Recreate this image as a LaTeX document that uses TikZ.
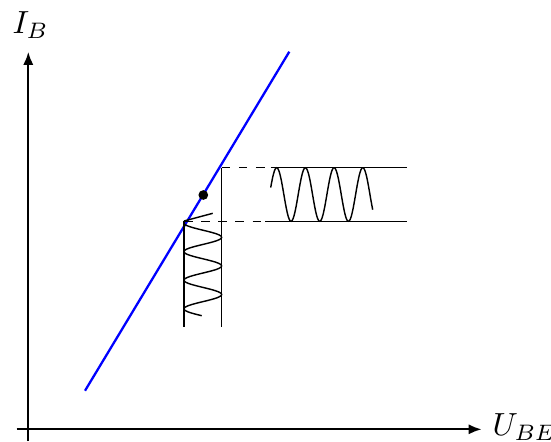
\documentclass[tikz,border=0pt]{standalone}
\usetikzlibrary{arrows.meta}
\begin{document}
\begin{tikzpicture}[x=0.35pt,y=-0.35pt,
  axis/.style={line width=0.8pt,-{Latex[length=4.6pt,width=3.6pt]}},
  thinline/.style={line width=0.5pt},
  guide/.style={line width=0.5pt,dash pattern=on 3pt off 3pt},
  curve/.style={blue,line width=0.8pt},
  lbl/.style={anchor=base west,inner sep=0pt,scale=1.12}]
\useasboundingbox (0,0) rectangle (551,441);
% axes
\coordinate (yb) at (28.3,441);
\coordinate (yt) at (28.3,51.7);
\coordinate (xl) at (16.7,429.3);
\coordinate (xr) at (481.7,429.3);
\draw[axis] (yb) -- (yt);
\draw[axis] (xl) -- (xr);
\node[lbl] (ib) at (12,33.3) {$I_B$};
\node[lbl] (ube) at (492,435.5) {$U_{BE}$};
% characteristic
\coordinate (c1) at (85,390.7);
\coordinate (c2) at (289.3,51.7);
\draw[curve] (c1) -- (c2);
\fill (203.3,195) circle (1.7pt);
% verticals
\coordinate (l1) at (184,221.3);
\coordinate (l2) at (184,326.7);
\coordinate (r1) at (221.7,167.7);
\coordinate (r2) at (221.7,326.7);
\draw[thinline] (l1) -- (l2);
\draw[thinline] (r1) -- (r2);
\draw[thinline] (184,221) -- (212.7,213.3);
% dashed guides
\draw[guide] (r1) -- (265,167.7);
\draw[guide] (l1) -- (262,221.3);
% output band
\draw[thinline] (270.7,167.7) -- (406.7,167.7);
\draw[thinline] (265,221.3) -- (406.7,221.3);
% horizontal sine
\draw[thinline,smooth] plot[domain=270.7:372.7,samples=140,variable=\t]
  ({\t},{194.5-26.8*sin(12.5436*(\t-269.5))});
% vertical sine
\draw[thinline,smooth] plot[domain=222:315.7,samples=140,variable=\t]
  ({202.8-18.8*cos(12.587*(\t-223))},{\t});
\end{tikzpicture}
\end{document}
